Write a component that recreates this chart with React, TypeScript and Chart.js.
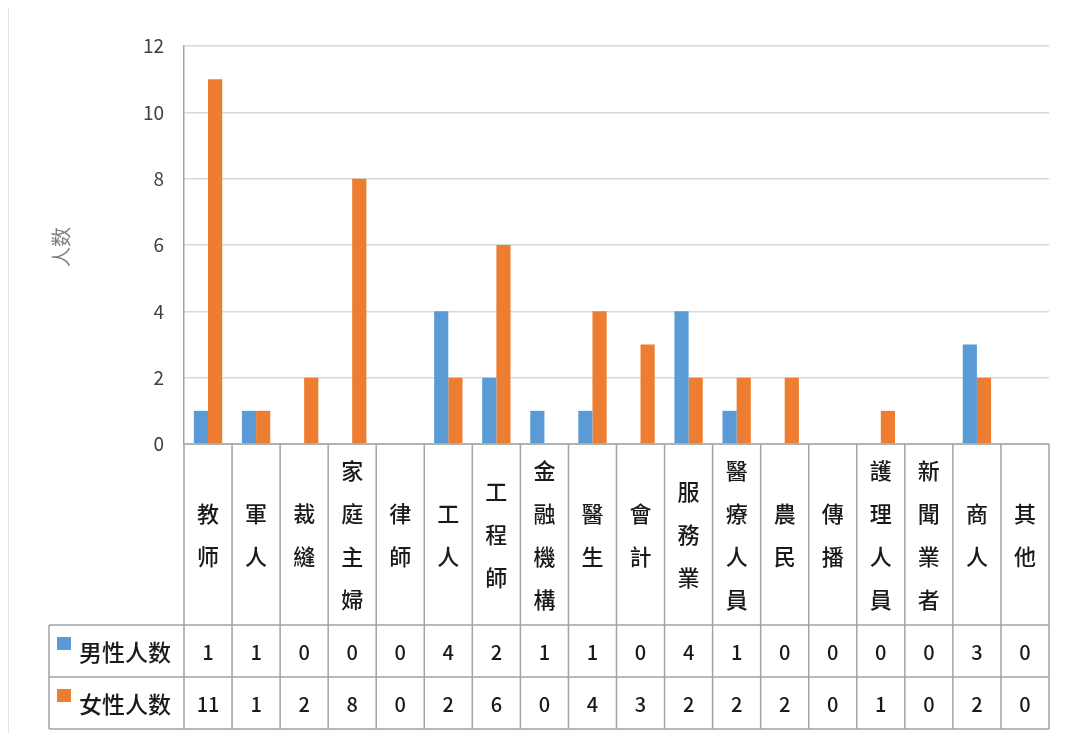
import React, { useEffect, useRef } from "react";
import { Chart, registerables } from "chart.js";

Chart.register(...registerables);

const categories = ["教师", "軍人", "裁縫", "家庭主婦", "律師", "工人", "工程師", "金融機構", "醫生", "會計", "服務業", "醫療人員", "農民", "傳播", "護理人員", "新聞業者", "商人", "其他"];
const maleCounts = [1, 1, 0, 0, 0, 4, 2, 1, 1, 0, 4, 1, 0, 0, 0, 0, 3, 0];
const femaleCounts = [11, 1, 2, 8, 0, 2, 6, 0, 4, 3, 2, 2, 2, 0, 1, 0, 2, 0];
const seriesNames = ["男性人数", "女性人数"];
const seriesColors = ["#5B9BD5", "#ED7D31"];
const yTitle = "人数";

const FONT = '"Noto Sans CJK TC", "Noto Sans", sans-serif';

const tablePlugin = {
  id: "dataTable",
  afterDraw(chart: any) {
    const ctx = chart.ctx;
    const ca = chart.chartArea;
    const xs = chart.scales.x;
    const n = categories.length;
    const w = (ca.right - ca.left) / n;
    const tableLeft = 41;
    const row1Top = 617;
    const row2Top = 669;
    const tableBottom = 721;
    ctx.save();
    // left chart border
    ctx.strokeStyle = "#e3e3e3";
    ctx.lineWidth = 1;
    ctx.beginPath();
    ctx.moveTo(0.5, 0);
    ctx.lineTo(0.5, chart.height);
    ctx.stroke();

    ctx.strokeStyle = "#a3a3a3";
    ctx.lineWidth = 1.5;
    ctx.beginPath();
    ctx.moveTo(ca.left, ca.bottom);
    ctx.lineTo(ca.right, ca.bottom);
    [row1Top, row2Top, tableBottom].forEach((y) => {
      ctx.moveTo(tableLeft, y);
      ctx.lineTo(ca.right, y);
    });
    for (let i = 0; i <= n; i++) {
      const x = ca.left + i * w;
      ctx.moveTo(x, ca.bottom);
      ctx.lineTo(x, tableBottom);
    }
    ctx.moveTo(tableLeft, row1Top);
    ctx.lineTo(tableLeft, tableBottom);
    ctx.stroke();

    // category headers (vertical chars)
    ctx.fillStyle = "#1a1a1a";
    ctx.font = "500 22px " + FONT;
    ctx.textAlign = "center";
    ctx.textBaseline = "middle";
    const headerCenter = 527;
    const lh = 43;
    categories.forEach((c, i) => {
      const cx = xs.getPixelForValue(i);
      const chars = Array.from(c);
      const start = headerCenter - ((chars.length - 1) * lh) / 2;
      chars.forEach((ch, k) => ctx.fillText(ch, cx, start + k * lh));
    });

    // rows
    const rows = [maleCounts, femaleCounts];
    const rowTops = [row1Top, row2Top];
    rows.forEach((vals, r) => {
      const cy = rowTops[r] + 26;
      ctx.fillStyle = seriesColors[r];
      ctx.fillRect(49, cy - 14, 14, 13);
      ctx.fillStyle = "#1a1a1a";
      ctx.font = "500 23px " + FONT;
      ctx.textAlign = "left";
      ctx.fillText(seriesNames[r], 71, cy + 1);
      ctx.font = "500 20px " + FONT;
      ctx.textAlign = "center";
      vals.forEach((v, i) => ctx.fillText(String(v), xs.getPixelForValue(i), cy + 1));
    });

    // y title
    ctx.save();
    ctx.translate(53, 239);
    ctx.rotate(-Math.PI / 2);
    ctx.fillStyle = "#7f7f7f";
    ctx.font = "20px " + FONT;
    ctx.textAlign = "center";
    ctx.fillText(yTitle, 0, 0);
    ctx.restore();
    ctx.restore();
  },
};

export default function App() {
  const ref = useRef<HTMLCanvasElement>(null);
  useEffect(() => {
    const chart = new Chart(ref.current as HTMLCanvasElement, {
      type: "bar",
      data: {
        labels: categories,
        datasets: [
          { label: seriesNames[0], data: maleCounts, backgroundColor: seriesColors[0], categoryPercentage: 0.59, barPercentage: 1 },
          { label: seriesNames[1], data: femaleCounts, backgroundColor: seriesColors[1], categoryPercentage: 0.59, barPercentage: 1 },
        ],
      },
      options: {
        animation: false,
        responsive: false,
        layout: { padding: { left: 0, right: 9, top: 38, bottom: 5 } },
        plugins: { legend: { display: false }, tooltip: { enabled: false } },
        scales: {
          x: {
            grid: { display: false },
            border: { display: false },
            ticks: { display: false },
            afterFit: (s: any) => { s.height = 285; },
          },
          y: {
            min: 0,
            max: 12,
            ticks: { stepSize: 2, color: "#404040", font: { size: 19, family: FONT }, padding: 20 },
            grid: { color: "#d9d9d9", lineWidth: 1.5, drawTicks: false },
            border: { display: true, color: "#a3a3a3", width: 1.5 },
            afterFit: (s: any) => { s.width = 176; },
          },
        },
      },
      plugins: [tablePlugin],
    });
    return () => chart.destroy();
  }, []);
  return (
    <div style={{ width: 1050, height: 726 }}>
      <canvas ref={ref} width={1050} height={726} style={{ width: 1050, height: 726, display: "block" }} />
    </div>
  );
}
